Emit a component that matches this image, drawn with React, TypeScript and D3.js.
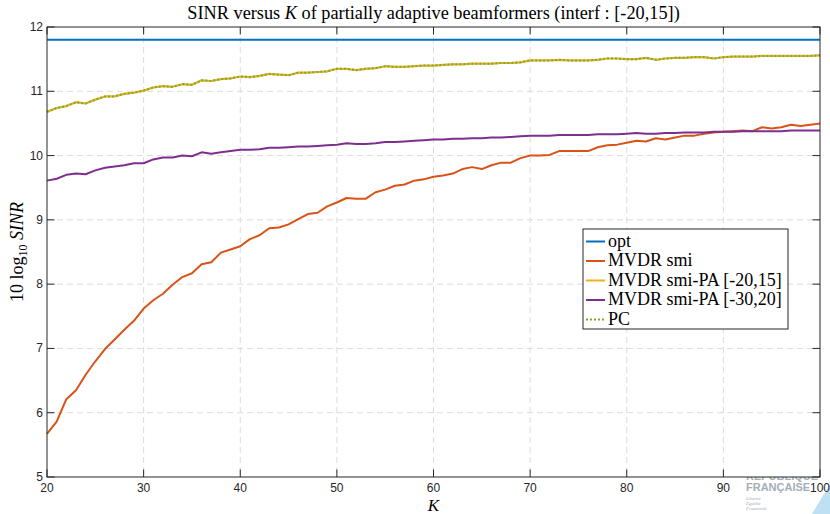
import React from 'react';
import * as d3 from 'd3';

// K = 20..100, one point per K
const kValues = d3.range(20, 101);

const optSinr = 11.8;

const smiSinr = [
  5.67, 5.86, 6.21, 6.35, 6.59, 6.8, 6.99, 7.14, 7.29, 7.43,
  7.62, 7.75, 7.85, 7.99, 8.11, 8.17, 8.31, 8.34, 8.49, 8.54,
  8.59, 8.7, 8.76, 8.87, 8.88, 8.93, 9.01, 9.09, 9.11, 9.21,
  9.27, 9.34, 9.33, 9.33, 9.43, 9.47, 9.53, 9.55, 9.61, 9.63,
  9.67, 9.69, 9.72, 9.79, 9.82, 9.79, 9.85, 9.89, 9.89, 9.96,
  10.0, 10.0, 10.01, 10.07, 10.07, 10.07, 10.07, 10.13, 10.16, 10.17,
  10.2, 10.23, 10.22, 10.27, 10.25, 10.28, 10.31, 10.31, 10.34, 10.36,
  10.37, 10.38, 10.39, 10.38, 10.44, 10.42, 10.44, 10.48, 10.46, 10.48,
  10.5,
];

const smiPa2015Sinr = [
  10.68, 10.74, 10.77, 10.83, 10.81, 10.87, 10.92, 10.92, 10.96, 10.98,
  11.01, 11.06, 11.08, 11.07, 11.11, 11.1, 11.17, 11.16, 11.19, 11.2,
  11.23, 11.22, 11.24, 11.27, 11.26, 11.25, 11.29, 11.29, 11.3, 11.31,
  11.35, 11.35, 11.33, 11.35, 11.36, 11.39, 11.38, 11.38, 11.39, 11.4,
  11.4, 11.41, 11.42, 11.42, 11.43, 11.43, 11.43, 11.44, 11.44, 11.45,
  11.48, 11.48, 11.48, 11.49, 11.48, 11.48, 11.48, 11.49, 11.51, 11.51,
  11.5, 11.5, 11.52, 11.49, 11.51, 11.52, 11.52, 11.53, 11.53, 11.51,
  11.53, 11.54, 11.54, 11.54, 11.55, 11.55, 11.55, 11.55, 11.55, 11.55,
  11.56,
];

const smiPa3020Sinr = [
  9.61, 9.64, 9.7, 9.72, 9.71, 9.77, 9.81, 9.83, 9.85, 9.88,
  9.88, 9.94, 9.97, 9.97, 10.0, 9.99, 10.05, 10.03, 10.05, 10.07,
  10.09, 10.09, 10.1, 10.12, 10.12, 10.13, 10.14, 10.14, 10.15, 10.16,
  10.17, 10.19, 10.18, 10.18, 10.19, 10.21, 10.21, 10.22, 10.23, 10.24,
  10.25, 10.25, 10.26, 10.26, 10.27, 10.27, 10.28, 10.28, 10.29, 10.3,
  10.31, 10.31, 10.31, 10.32, 10.32, 10.32, 10.32, 10.33, 10.33, 10.33,
  10.34, 10.35, 10.34, 10.34, 10.35, 10.35, 10.36, 10.36, 10.36, 10.37,
  10.37, 10.37, 10.38, 10.38, 10.38, 10.38, 10.38, 10.39, 10.39, 10.39,
  10.39,
];

// PC lies exactly on top of smi-PA [-20,15] in the figure
const pcSinr = smiPa2015Sinr.slice();

const xTicks = [20, 30, 40, 50, 60, 70, 80, 90, 100];
const yTicks = [5, 6, 7, 8, 9, 10, 11, 12];

const legendLabels = ['opt', 'MVDR smi', 'MVDR smi-PA [-20,15]', 'MVDR smi-PA [-30,20]', 'PC'];
const colors = ['#0072BD', '#D95319', '#EDB120', '#7E2F8E', '#77AC30'];

const W = 830;
const H = 514;
const left = 47;
const right = 820;
const top = 27;
const bottom = 477;
const axisColor = '#262626';
const tickFont = 'Liberation Sans, Arial, sans-serif';
const serif = 'Liberation Serif, DejaVu Serif, serif';

const App: React.FC = () => {
  const x = d3.scaleLinear().domain([20, 100]).range([left, right]);
  const y = d3.scaleLinear().domain([5, 12]).range([bottom, top]);

  const line = d3
    .line<number>()
    .x((_, i) => x(kValues[i]))
    .y((d) => y(d));

  const optLine = line(kValues.map(() => optSinr)) || '';
  const series = [
    { d: line(smiSinr), color: colors[1], dash: undefined, w: 2 },
    { d: line(smiPa2015Sinr), color: colors[2], dash: undefined, w: 2.2 },
    { d: line(smiPa3020Sinr), color: colors[3], dash: undefined, w: 2 },
    { d: line(pcSinr), color: colors[4], dash: '2 2', w: 2 },
  ];

  const tickLen = 7.5;
  const legX = 583;
  const legY = 229;
  const legW = 205;
  const legH = 100;

  return (
    <svg
      width={W}
      height={H}
      style={{ position: 'absolute', left: 0, top: 0, background: '#fff' }}
    >
      {/* watermark in the bottom right corner, partly under the axes */}
      <g>
        <text x={746} y={480} fontFamily={tickFont} fontWeight="bold" fontSize={11} fill="#a5adb6">
          RÉPUBLIQUE
        </text>
        <text x={746} y={491} fontFamily={tickFont} fontWeight="bold" fontSize={11} fill="#a5adb6">
          FRANÇAISE
        </text>
        <text x={746} y={500} fontFamily={serif} fontStyle="italic" fontSize={5} fill="#a5adb6">
          Liberté
        </text>
        <text x={746} y={505} fontFamily={serif} fontStyle="italic" fontSize={5} fill="#a5adb6">
          Égalité
        </text>
        <text x={746} y={510} fontFamily={serif} fontStyle="italic" fontSize={5} fill="#a5adb6">
          Fraternité
        </text>
        <path d="M830,484 L830,514 L812,514 Z" fill="#bfe0f2" />
      </g>

      <rect x={left} y={top} width={right - left} height={bottom - top} fill="#fff" />

      {/* grid */}
      <g stroke="#dcdcdc" strokeWidth={1} strokeDasharray="6 4">
        {xTicks.slice(1, -1).map((t) => (
          <line key={'gx' + t} x1={x(t)} x2={x(t)} y1={top} y2={bottom} />
        ))}
        {yTicks.slice(1, -1).map((t) => (
          <line key={'gy' + t} x1={left} x2={right} y1={y(t)} y2={y(t)} />
        ))}
      </g>

      {/* curves */}
      <path d={optLine} fill="none" stroke={colors[0]} strokeWidth={2} />
      {series.map((s, i) => (
        <path
          key={i}
          d={s.d || ''}
          fill="none"
          stroke={s.color}
          strokeWidth={s.w}
          strokeDasharray={s.dash}
          strokeLinejoin="round"
        />
      ))}

      {/* box and ticks */}
      <rect x={left} y={top} width={right - left} height={bottom - top} fill="none" stroke={axisColor} strokeWidth={1} />
      <g stroke={axisColor} strokeWidth={1}>
        {xTicks.map((t) => (
          <g key={'tx' + t}>
            <line x1={x(t)} x2={x(t)} y1={bottom} y2={bottom - tickLen} />
            <line x1={x(t)} x2={x(t)} y1={top} y2={top + tickLen} />
          </g>
        ))}
        {yTicks.map((t) => (
          <g key={'ty' + t}>
            <line x1={left} x2={left + tickLen} y1={y(t)} y2={y(t)} />
            <line x1={right} x2={right - tickLen} y1={y(t)} y2={y(t)} />
          </g>
        ))}
      </g>
      <g fontFamily={tickFont} fontSize={12} fill={axisColor}>
        {xTicks.map((t) => (
          <text key={'lx' + t} x={x(t)} y={bottom + 15} textAnchor="middle">
            {t}
          </text>
        ))}
        {yTicks.map((t) => (
          <text key={'ly' + t} x={left - 4} y={y(t) + 4} textAnchor="end">
            {t}
          </text>
        ))}
      </g>

      {/* title and axis labels */}
      <text x={(left + right) / 2} y={19} textAnchor="middle" fontFamily={serif} fontSize={18.3} fill="#000">
        SINR versus <tspan fontStyle="italic">K</tspan> of partially adaptive beamformers (interf : [-20,15])
      </text>
      <text x={(left + right) / 2} y={511} textAnchor="middle" fontFamily={serif} fontSize={17} fontStyle="italic" fill="#000">
        K
      </text>
      <text
        transform={`translate(23, ${(top + bottom) / 2}) rotate(-90)`}
        textAnchor="middle"
        fontFamily={serif}
        fontSize={18}
        fill="#000"
      >
        10 log<tspan fontSize={12} dy={4}>10</tspan>
        <tspan dy={-4} fontStyle="italic"> SINR</tspan>
      </text>

      {/* legend */}
      <rect x={legX} y={legY} width={legW} height={legH} fill="#fff" stroke={axisColor} strokeWidth={1} />
      {legendLabels.map((lab, i) => {
        const ly = legY + 12.5 + i * 19.5;
        return (
          <g key={lab}>
            <line
              x1={legX + 3}
              x2={legX + 22}
              y1={ly}
              y2={ly}
              stroke={colors[i]}
              strokeWidth={2}
              strokeDasharray={i === 4 ? '2 2' : undefined}
            />
            <text x={legX + 25} y={ly + 5} fontFamily={serif} fontSize={18} fill="#000">
              {lab}
            </text>
          </g>
        );
      })}
    </svg>
  );
};

export default App;
